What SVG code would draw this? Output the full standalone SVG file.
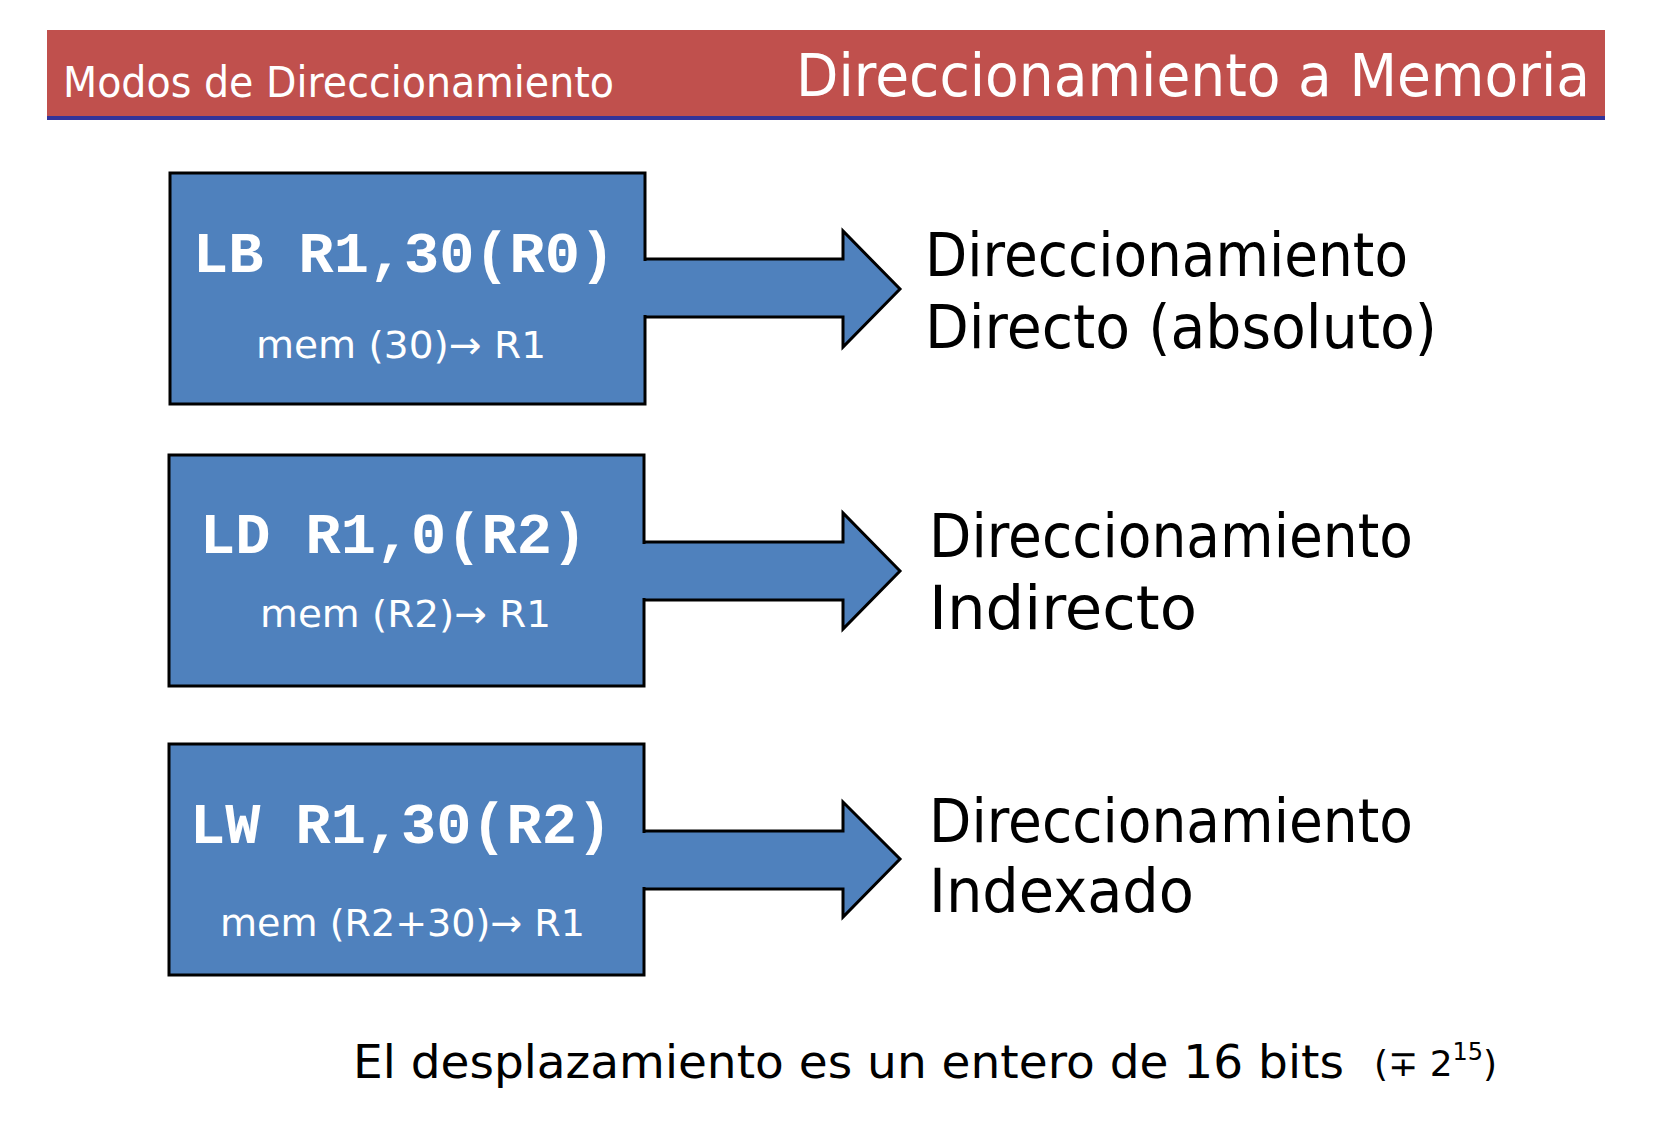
<svg xmlns="http://www.w3.org/2000/svg" width="1653" height="1144" viewBox="0 0 1653 1144">
<style>
.hand{font-family:"DejaVu Sans","Noto Sans",sans-serif;}
.code{font-family:"Liberation Mono","DejaVu Sans Mono",monospace;font-weight:bold;fill:#fff;font-size:58px;}
.w{fill:#fff;}
.k{fill:#000;}
.box{fill:#4F81BD;stroke:#000;stroke-width:3;}
</style>
<rect width="1653" height="1144" fill="#fff"/>
<g id="header">
<rect x="47" y="30" width="1558" height="87" fill="#C0504D"/>
<rect x="47" y="116" width="1558" height="4" fill="#333399"/>
<text class="hand w" x="63" y="97" font-size="42" textLength="551" lengthAdjust="spacingAndGlyphs">Modos de Direccionamiento</text>
<text class="hand w" x="796" y="96" font-size="58" textLength="794" lengthAdjust="spacingAndGlyphs">Direccionamiento a Memoria</text>
</g>
<g id="connectors">
<path class="box" d="M645,259 H843 V231 L900,289 L843,347 V317 H645"/>
<path class="box" d="M644,542 H843 V513 L900,571 L843,629 V600 H644"/>
<path class="box" d="M644,831 H843 V802 L900,859 L843,917 V889 H644"/>
</g>
<g id="node1">
<rect class="box" x="170" y="173" width="475" height="231"/>
<path d="M645,261 V315" stroke="#4F81BD" stroke-width="4"/>
<text class="code" x="193" y="272" textLength="422" lengthAdjust="spacingAndGlyphs">LB R1,30(R0)</text>
<text class="hand w" x="256" y="358" font-size="38" textLength="290" lengthAdjust="spacingAndGlyphs">mem (30)→ R1</text>
</g>
<g id="node2">
<rect class="box" x="169" y="455" width="475" height="231"/>
<path d="M644,544 V598" stroke="#4F81BD" stroke-width="4"/>
<text class="code" x="200" y="553" textLength="387" lengthAdjust="spacingAndGlyphs">LD R1,0(R2)</text>
<text class="hand w" x="260" y="627" font-size="38" textLength="291" lengthAdjust="spacingAndGlyphs">mem (R2)→ R1</text>
</g>
<g id="node3">
<rect class="box" x="169" y="744" width="475" height="231"/>
<path d="M644,833 V887" stroke="#4F81BD" stroke-width="4"/>
<text class="code" x="190" y="843" textLength="422" lengthAdjust="spacingAndGlyphs">LW R1,30(R2)</text>
<text class="hand w" x="220" y="936" font-size="38" textLength="365" lengthAdjust="spacingAndGlyphs">mem (R2+30)→ R1</text>
</g>
<g id="label1">
<text class="hand k" x="925" y="276" font-size="60" textLength="483" lengthAdjust="spacingAndGlyphs">Direccionamiento</text>
<text class="hand k" x="925" y="348" font-size="60" textLength="512" lengthAdjust="spacingAndGlyphs">Directo (absoluto)</text>
</g>
<g id="label2">
<text class="hand k" x="929" y="557" font-size="60" textLength="484" lengthAdjust="spacingAndGlyphs">Direccionamiento</text>
<text class="hand k" x="929" y="629" font-size="60" textLength="268" lengthAdjust="spacingAndGlyphs">Indirecto</text>
</g>
<g id="label3">
<text class="hand k" x="929" y="842" font-size="60" textLength="484" lengthAdjust="spacingAndGlyphs">Direccionamiento</text>
<text class="hand k" x="929" y="912" font-size="60" textLength="265" lengthAdjust="spacingAndGlyphs">Indexado</text>
</g>
<g id="footnote">
<text class="hand k" x="353" y="1078" font-size="47">El desplazamiento es un entero de 16 bits</text>
<text class="hand k" x="1374" y="1076" font-size="36">(∓ 2<tspan font-size="24" dy="-16">15</tspan><tspan dy="16">)</tspan></text>
</g>
</svg>
